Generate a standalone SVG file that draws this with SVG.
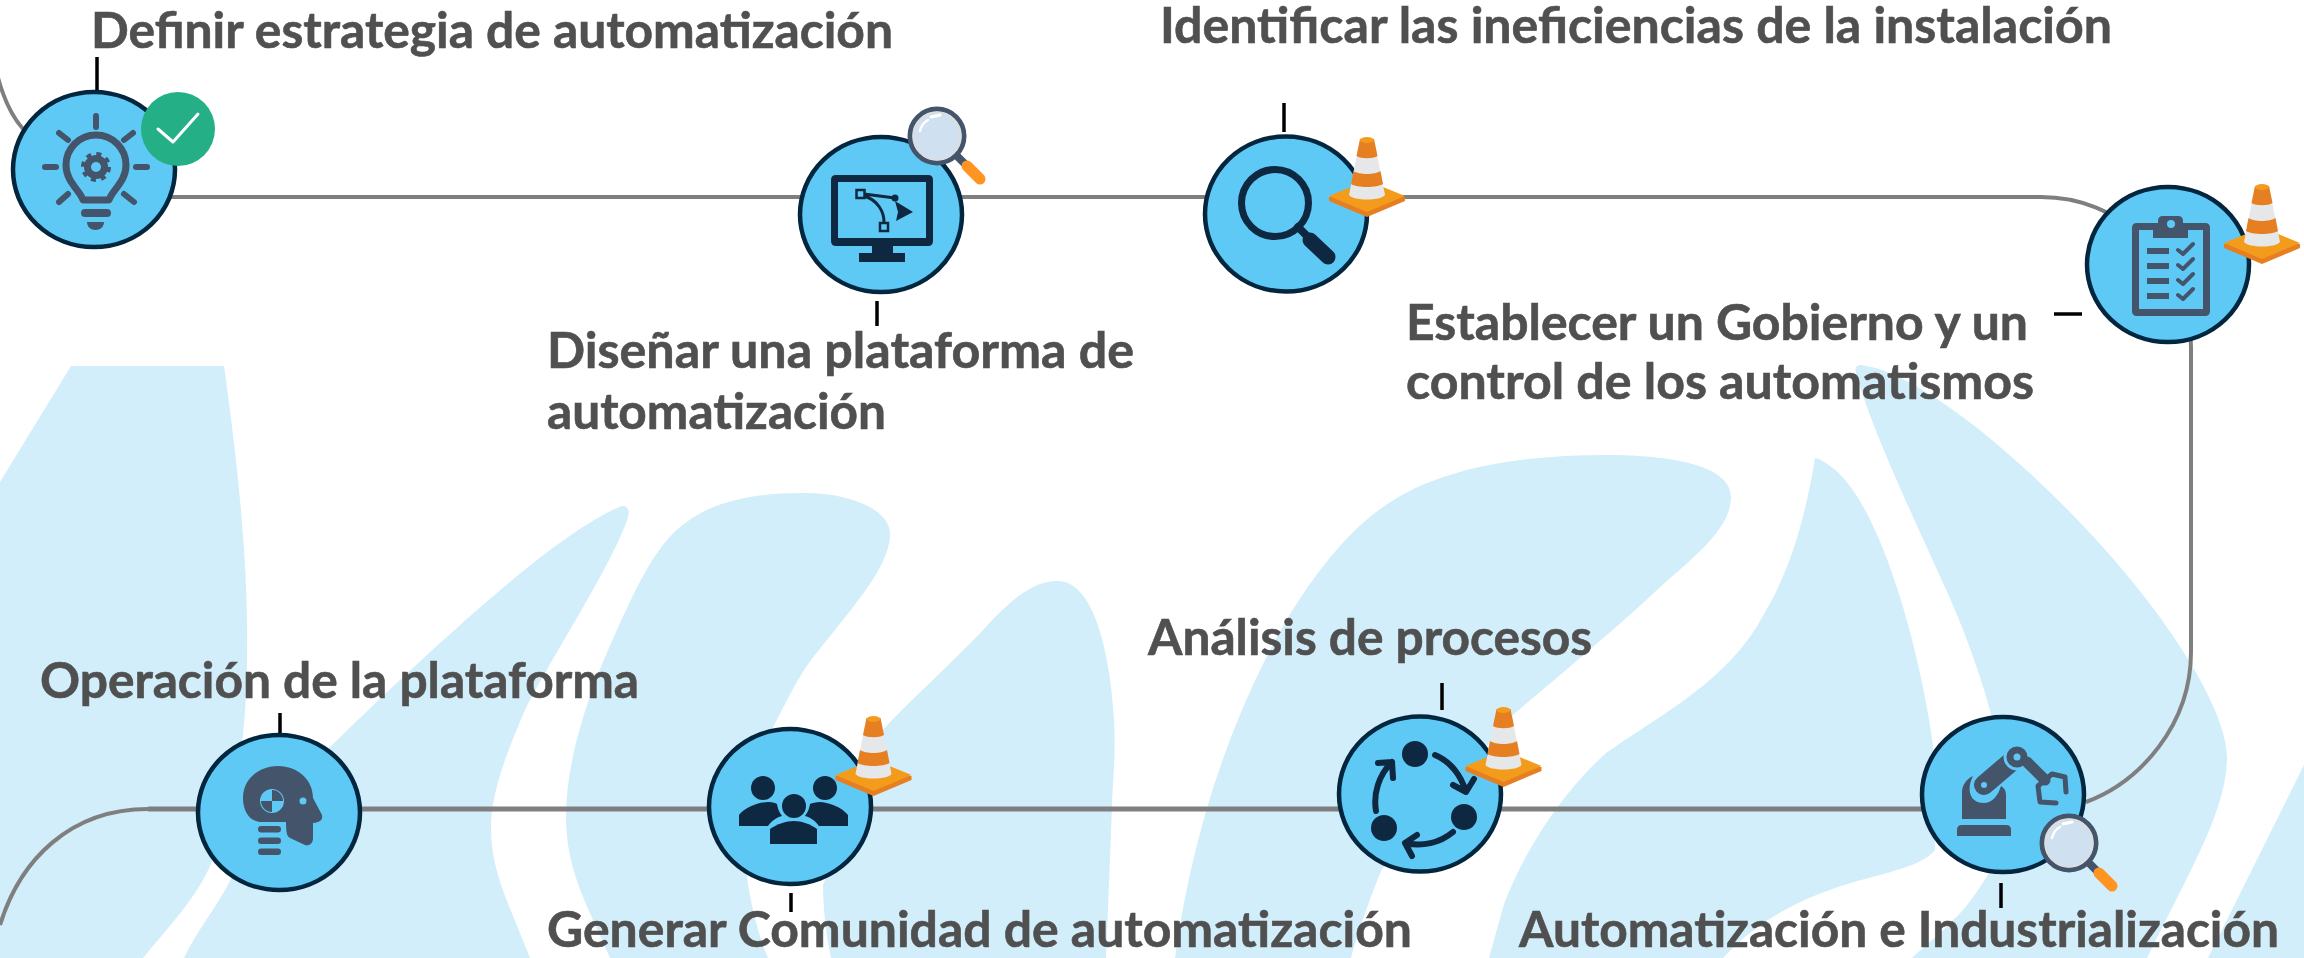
<svg xmlns="http://www.w3.org/2000/svg" width="2304" height="958" viewBox="0 0 2304 958">
<style>
.bg{fill:#D1EEFA}
.c{fill:none;stroke:#7F7F7F;stroke-width:4}
.t{stroke:#000;stroke-width:3.5;fill:none}
.n{fill:#5FC9F5;stroke:#03263F;stroke-width:4.5}
.l{font-family:"Lato","Liberation Sans",sans-serif;font-weight:700;font-size:50px;fill:#505050;stroke:#505050;stroke-width:.6}
.g{fill:#44546A}
.d{fill:#0F2841}
.gs{fill:none;stroke:#44546A;stroke-linecap:round;stroke-linejoin:round}
.ds{fill:none;stroke:#0F2841;stroke-linecap:round;stroke-linejoin:round}
.lb{fill:#5FC9F5}
</style>
<defs>
<g id="cone">
<path d="M-38,0 V4 L0,20 L38,4 V0 Z" fill="#E57F22"/>
<path d="M-38,-1 L-16,-10 H16 L38,-1 L0,15 Z" fill="#F39C1B"/>
<path d="M-7,-58 L-18,-2 C-14,4 14,4 18,-2 L7,-58 Z" fill="#E6E7E8"/>
<path d="M-7,-58 L-10.5,-41 C-6,-38 6,-38 10.5,-41 L7,-58 Z" fill="#E67E22"/>
<path d="M-13.5,-26 L-16,-13 C-10,-9 10,-9 16,-13 L13.5,-26 C8,-22 -8,-22 -13.5,-26 Z" fill="#E67E22"/>
<ellipse cx="0" cy="-57" rx="7" ry="3" fill="#F39C1B"/>
</g>
<g id="lens">
<path d="M20,20 L30,30" stroke="#44546A" stroke-width="8" fill="none"/>
<path d="M30,30 L43,43" stroke="#FF9422" stroke-width="11" stroke-linecap="round" fill="none"/>
<circle r="27" fill="#CFE0F0" stroke="#44546A" stroke-width="5"/>
<circle r="23.5" fill="none" stroke="#D9DEE3" stroke-width="2.5"/>
<path d="M-17,-5 Q-15,-13 -9,-16" fill="none" stroke="#fff" stroke-width="2.5" stroke-linecap="round"/>
<path d="M-6,-19 L3,-21" stroke="#fff" stroke-width="3" stroke-linecap="round"/>
</g>
</defs>
<g id="background">
<path class="bg" d="M71,366 H224 C240,480 248,570 247,650 C247,720 240,800 212,862 C195,900 170,925 143,958 H0 V482 Z"/>
<path class="bg" d="M622,506 C560,530 440,640 332,745 C290,790 260,825 230,881 C215,910 197,930 184,958 H530 C505,895 491,870 491,827 C491,790 510,745 525,710 C550,660 615,560 628,517 C630,510 628,506 622,506 Z"/>
<path class="bg" d="M800,493 C850,492 892,510 890,536 C888,570 850,610 811,660 C795,682 785,705 773,727 L747,877 C750,900 758,935 768,958 H610 C585,900 566,870 566,815 C566,760 590,690 612,641 C635,590 655,545 684,524 C710,503 750,493 800,493 Z"/>
<path class="bg" d="M1058,581 C1090,581 1109,640 1114,718 C1116,760 1112,790 1112,807 L1106,958 H831 C826,935 823,905 823,885 L883,730 C905,705 950,665 984,629 C1015,595 1035,581 1058,581 Z"/>
<path class="bg" d="M1175,958 C1190,850 1220,750 1265,660 C1300,590 1345,530 1392,501 C1450,465 1530,455 1606,455 C1670,455 1731,465 1731,497 C1731,530 1690,560 1657,590 C1620,625 1560,675 1514,714 L1382,869 C1375,885 1360,925 1351,958 Z"/>
<path class="bg" d="M1815,458 C1805,520 1790,570 1764,614 C1730,680 1660,715 1606,753 C1560,795 1525,850 1504,904 L1489,958 H1723 C1770,905 1840,885 1880,875 C1905,868 1925,862 1935,850 L1933,745 C1920,650 1880,500 1830,466 C1825,462 1820,459 1815,458 Z"/>
<path class="bg" d="M1861,365 C1855,365 1855,370 1856,373 C1870,425 1910,510 1943,583 C1965,630 1982,680 1991,714 L1989,873 C1975,895 1965,910 1953,920 C1940,935 1925,945 1912,958 H2147 C2190,870 2227,810 2227,757 C2227,700 2140,570 2014,459 C1960,410 1900,372 1871,367 Z"/>
<path class="bg" d="M2208,958 L2304,765 V958 Z"/>
</g>
<g id="connectors">
<path class="c" d="M-4,70 C2,95 10,115 24,130"/>
<path class="c" d="M94,197 H2041 A150,150 0 0 1 2191,347 V652 C2191,725 2140,782 2086,802"/>
<path class="c" style="stroke-width:5" d="M2003,809 H148"/>
<path class="c" d="M148,809 C70,809 20,860 0,925"/>
<path class="t" d="M97,57 V90"/>
<path class="t" d="M877,301 V326"/>
<path class="t" d="M1284,103 V132"/>
<path class="t" d="M2054,314 H2082"/>
<path class="t" d="M2001,883 V908"/>
<path class="t" d="M1442,683 V710"/>
<path class="t" d="M791,893 V912"/>
<path class="t" d="M280,713 V733"/>
</g>
<g id="node-definir">
<ellipse class="n" cx="94" cy="169.500" rx="81" ry="77.500"/>
<path class="gs" stroke-width="7" d="M83,200 C80,190 66,182 66,165 A30,30 0 1 1 126,165 C126,182 112,190 109,200 Z"/>
<path class="gs" stroke-width="6" d="M96,116 V127 M59,133 L68,140 M133,133 L124,140 M45,167 H56 M136,167 H147 M68,194 L59,202 M124,194 L134,202"/>
<circle cx="96" cy="167" r="13" fill="none" stroke="#44546A" stroke-width="4" stroke-dasharray="5 5.2"/>
<circle class="g" cx="96" cy="167" r="12"/>
<circle class="lb" cx="96" cy="167" r="5"/>
<rect class="g" x="81" y="209" width="30" height="8" rx="4"/>
<path class="g" d="M87,222 H104 C104,227 100,230 95.500,230 C91,230 87,227 87,222 Z"/>
<circle cx="178" cy="129" r="37" fill="#25AF87"/>
<path d="M158,129 L173,142 L198,114" fill="none" stroke="#fff" stroke-width="3" stroke-linecap="round" stroke-linejoin="round"/>
<text class="l" x="91" y="47.500" textLength="802" lengthAdjust="spacingAndGlyphs">Definir estrategia de automatización</text>
</g>
<g id="node-disenar">
<ellipse class="n" cx="881" cy="214.500" rx="81" ry="77.500"/>
<path class="d" fill-rule="evenodd" d="M836,175 H928 Q933,175 933,180 V241 Q933,246 928,246 H893 V253 H905 V262 H859 V253 H872 V246 H836 Q831,246 831,241 V180 Q831,175 836,175 Z M838,182 V238 H926 V182 Z"/>
<path class="ds" stroke-width="3" d="M864,194 L895,198 M864,196 C878,200 884,212 884,222"/>
<circle class="d" cx="895" cy="198" r="3.500"/>
<rect x="856.500" y="190" width="8" height="8" fill="#5FC9F5" stroke="#0F2841" stroke-width="2.500"/>
<rect x="880" y="223" width="8" height="8" fill="#5FC9F5" stroke="#0F2841" stroke-width="2.500"/>
<path class="d" d="M895,201 L913,212 L896,221 L898,212 Z"/>
<use href="#lens" x="937" y="136"/>
<text class="l" x="547" y="367.500" textLength="587" lengthAdjust="spacingAndGlyphs">Diseñar una plataforma de</text>
<text class="l" x="547" y="428.500" textLength="339" lengthAdjust="spacingAndGlyphs">automatización</text>
</g>
<g id="node-identificar">
<ellipse class="n" cx="1286" cy="214" rx="81" ry="77.500"/>
<circle cx="1275" cy="203" r="33.500" fill="none" stroke="#0F2841" stroke-width="7"/>
<path class="ds" stroke-width="8" stroke-linecap="butt" d="M1298,227 L1310,239"/>
<path class="ds" stroke-width="15" d="M1310,240 L1328,257"/>
<use href="#cone" x="1367" y="197"/>
<text class="l" x="1160" y="42.500" textLength="952" lengthAdjust="spacingAndGlyphs">Identificar las ineficiencias de la instalación</text>
</g>
<g id="node-gobierno">
<ellipse class="n" cx="2168" cy="264.500" rx="81" ry="77.500"/>
<path class="g" fill-rule="evenodd" d="M2137,223 H2158 V221 Q2158,216 2163,216 H2178 Q2183,216 2183,221 V223 H2205 Q2210,223 2210,228 V311 Q2210,316 2205,316 H2137 Q2132,316 2132,311 V228 Q2132,223 2137,223 Z M2139,230 V309 H2203 V230 H2188 V238 H2153 V230 Z"/>
<circle class="lb" cx="2171" cy="224" r="4"/>
<path class="g" d="M2147,248 h22 v6 h-22 Z M2147,263 h22 v6 h-22 Z M2147,278 h22 v6 h-22 Z M2147,293 h22 v6 h-22 Z"/>
<path class="gs" stroke-width="4" stroke-linecap="butt" stroke-linejoin="miter" d="M2178,250 L2183,254 L2193,244 M2178,265 L2183,269 L2193,259 M2178,280 L2183,284 L2193,274 M2178,295 L2183,299 L2193,289"/>
<use href="#cone" x="2262" y="244"/>
<text class="l" x="1406" y="339.500" textLength="622" lengthAdjust="spacingAndGlyphs">Establecer un Gobierno y un</text>
<text class="l" x="1406" y="398.500" textLength="628" lengthAdjust="spacingAndGlyphs">control de los automatismos</text>
</g>
<g id="node-industrializacion">
<ellipse class="n" cx="2003" cy="794.500" rx="81" ry="77.500"/>
<path class="g" d="M1957,836 V830 Q1957,825 1962,825 H2006 Q2011,825 2011,830 V836 Z"/>
<path class="g" d="M1962,819 V792 C1962,786 1966,779 1973,776 C1966,790 1970,803 1984,803 C1992,803 1998,796 2001,786 C2004,788 2006,790 2006,795 V819 Z"/>
<path class="gs" stroke-width="20" d="M1984,785 L2011,762"/>
<circle cx="2017" cy="757" r="12" fill="#44546A" stroke="#5FC9F5" stroke-width="3"/>
<circle class="lb" cx="2017" cy="757" r="3.500"/>
<circle class="lb" cx="1984" cy="785" r="3"/>
<path class="gs" stroke-width="11" stroke-linecap="butt" d="M2027,762 L2045,780"/>
<path class="gs" stroke-width="5" d="M2045,780 L2052,774 L2065,777 L2066,792 M2045,780 L2038,786 L2040,802 L2056,803"/>
<use href="#lens" x="2069" y="843"/>
<text class="l" x="1519" y="946.500" textLength="760" lengthAdjust="spacingAndGlyphs">Automatización e Industrialización</text>
</g>
<g id="node-analisis">
<ellipse class="n" cx="1420" cy="794" rx="81" ry="77.500"/>
<circle class="d" cx="1415" cy="754" r="13"/>
<circle class="d" cx="1464" cy="817" r="13"/>
<circle class="d" cx="1384" cy="828" r="13"/>
<path class="ds" stroke-width="6" d="M1435,755 C1450,761 1461,775 1466,792 M1453,785 L1466,792 L1474,779"/>
<path class="ds" stroke-width="6" d="M1453,832 C1440,843 1422,847 1405,843 M1417,835 L1405,843 L1412,856"/>
<path class="ds" stroke-width="6" d="M1376,811 C1373,793 1379,775 1392,762 M1378,763 L1392,762 L1393,778"/>
<use href="#cone" x="1503.500" y="767"/>
<text class="l" x="1148" y="654.500" textLength="444" lengthAdjust="spacingAndGlyphs">Análisis de procesos</text>
</g>
<g id="node-comunidad">
<ellipse class="n" cx="790" cy="806.500" rx="81" ry="77.500"/>
<circle class="d" cx="763" cy="788" r="12"/>
<circle class="d" cx="825" cy="788" r="12"/>
<circle class="d" cx="794" cy="806" r="12"/>
<path class="d" d="M739,826 V815 C745,807 760,802 768,802 C772,802 776,803 777,804 C778,810 780,813 782,816 C775,818 771,822 768,826 Z"/>
<path class="d" d="M848,826 V815 C842,807 827,802 820,802 C816,802 812,803 810,804 C809,810 807,813 805,816 C812,818 816,822 819,826 Z"/>
<path class="d" d="M770,844 V829 C777,824 786,821 794,821 C802,821 810,824 817,829 V844 Z"/>
<use href="#cone" x="873.500" y="776"/>
<text class="l" x="547" y="946.500" textLength="865" lengthAdjust="spacingAndGlyphs">Generar Comunidad de automatización</text>
</g>
<g id="node-operacion">
<ellipse class="n" cx="279" cy="812.500" rx="81" ry="77.500"/>
<path class="g" d="M243,798 C243,778 260,766 278,766 C298,766 313,780 313,798 L322,815 C323,820 320,822 313,823 V838 C313,844 309,846 305,845 L290,838 C287,836 286,833 286,822 H262 C250,822 243,812 243,798 Z"/>
<circle class="lb" cx="303" cy="801" r="3.500"/>
<circle cx="272" cy="801" r="11" fill="#5FC9F5" stroke="#5FC9F5" stroke-width="2"/>
<path class="g" d="M272,801 V790 A11,11 0 0 1 283,801 Z M272,801 V812 A11,11 0 0 1 261,801 Z"/>
<rect class="g" x="258" y="826" width="23" height="6.500" rx="3.250"/>
<rect class="g" x="258" y="837.500" width="23" height="6.500" rx="3.250"/>
<rect class="g" x="258" y="848.500" width="23" height="6.500" rx="3.250"/>
<text class="l" x="40" y="697.500" textLength="599" lengthAdjust="spacingAndGlyphs">Operación de la plataforma</text>
</g>
</svg>
